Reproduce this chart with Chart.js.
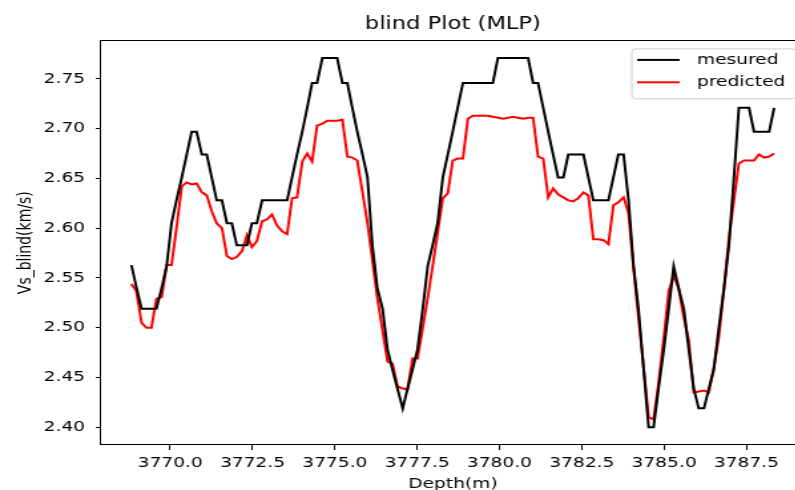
<!DOCTYPE html>
<html lang="es">
<head>
<meta charset="utf-8">
<title>blind Plot (MLP)</title>
<script src="https://cdn.jsdelivr.net/npm/chart.js@4.4.1/dist/chart.umd.min.js"></script>
<style>
  html, body { margin: 0; padding: 0; background: #ffffff; overflow: hidden; }
  #contenedor { width: 795px; height: 490px; overflow: hidden; }
</style>
</head>
<body>
<div id="contenedor">
  <!-- se dibuja mas estrecho y se estira en horizontal, como la figura original -->
  <canvas id="graficoBlind" width="609" height="490" style="width:810px;height:490px"></canvas>
</div>
<script>
const profundidades = [
  3768.82, 3768.97, 3769.13, 3769.28, 3769.43, 3769.58, 3769.74, 3769.89, 3770.04, 3770.19,
  3770.35, 3770.50, 3770.65, 3770.80, 3770.96, 3771.11, 3771.26, 3771.41, 3771.57, 3771.72,
  3771.87, 3772.02, 3772.18, 3772.33, 3772.48, 3772.63, 3772.79, 3772.94, 3773.09, 3773.24,
  3773.40, 3773.55, 3773.70, 3773.85, 3774.01, 3774.16, 3774.31, 3774.46, 3774.62, 3774.77,
  3774.92, 3775.07, 3775.23, 3775.38, 3775.53, 3775.68, 3775.84, 3775.99, 3776.14, 3776.29,
  3776.45, 3776.60, 3776.75, 3776.90, 3777.06, 3777.21, 3777.36, 3777.51, 3777.67, 3777.82,
  3777.97, 3778.12, 3778.28, 3778.43, 3778.58, 3778.73, 3778.89, 3779.04, 3779.19, 3779.34,
  3779.50, 3779.65, 3779.80, 3779.95, 3780.11, 3780.26, 3780.41, 3780.56, 3780.72, 3780.87,
  3781.02, 3781.17, 3781.33, 3781.48, 3781.63, 3781.78, 3781.94, 3782.09, 3782.24, 3782.39,
  3782.55, 3782.70, 3782.85, 3783.00, 3783.16, 3783.31, 3783.46, 3783.61, 3783.77, 3783.92,
  3784.07, 3784.22, 3784.38, 3784.53, 3784.68, 3784.83, 3784.99, 3785.14, 3785.29, 3785.44,
  3785.60, 3785.75, 3785.90, 3786.05, 3786.21, 3786.36, 3786.51, 3786.66, 3786.82, 3786.97,
  3787.12, 3787.27, 3787.43, 3787.58, 3787.73, 3787.88, 3788.04, 3788.19, 3788.34,
];

const vsMedido = [
  2.563, 2.541, 2.519, 2.519, 2.519, 2.519, 2.540, 2.562, 2.605, 2.628,
  2.651, 2.674, 2.697, 2.697, 2.674, 2.674, 2.651, 2.628, 2.628, 2.605,
  2.605, 2.583, 2.583, 2.583, 2.605, 2.605, 2.628, 2.628, 2.628, 2.628,
  2.628, 2.628, 2.651, 2.674, 2.697, 2.721, 2.746, 2.746, 2.771, 2.771,
  2.771, 2.771, 2.746, 2.746, 2.721, 2.697, 2.674, 2.651, 2.583, 2.540,
  2.519, 2.478, 2.458, 2.439, 2.419, 2.439, 2.458, 2.478, 2.519, 2.562,
  2.583, 2.605, 2.651, 2.674, 2.697, 2.721, 2.746, 2.746, 2.746, 2.746,
  2.746, 2.746, 2.746, 2.771, 2.771, 2.771, 2.771, 2.771, 2.771, 2.771,
  2.746, 2.746, 2.721, 2.697, 2.674, 2.651, 2.651, 2.674, 2.674, 2.674,
  2.674, 2.651, 2.628, 2.628, 2.628, 2.628, 2.651, 2.674, 2.674, 2.628,
  2.562, 2.519, 2.458, 2.400, 2.400, 2.439, 2.478, 2.519, 2.562, 2.540,
  2.519, 2.478, 2.439, 2.419, 2.419, 2.439, 2.458, 2.499, 2.540, 2.583,
  2.651, 2.721, 2.721, 2.721, 2.697, 2.697, 2.697, 2.697, 2.721,
];

const vsPredicho = [
  2.544, 2.537, 2.505, 2.500, 2.500, 2.529, 2.531, 2.563, 2.563, 2.600,
  2.642, 2.646, 2.644, 2.645, 2.636, 2.633, 2.617, 2.605, 2.600, 2.572,
  2.569, 2.571, 2.577, 2.593, 2.581, 2.587, 2.607, 2.609, 2.614, 2.603,
  2.597, 2.594, 2.630, 2.631, 2.667, 2.675, 2.667, 2.703, 2.705, 2.708,
  2.708, 2.708, 2.709, 2.672, 2.671, 2.668, 2.636, 2.605, 2.568, 2.530,
  2.497, 2.466, 2.464, 2.441, 2.439, 2.438, 2.469, 2.469, 2.500, 2.530,
  2.562, 2.595, 2.630, 2.635, 2.668, 2.670, 2.670, 2.710, 2.713, 2.713,
  2.713, 2.713, 2.712, 2.711, 2.710, 2.711, 2.712, 2.711, 2.710, 2.711,
  2.711, 2.672, 2.670, 2.631, 2.640, 2.634, 2.631, 2.628, 2.627, 2.630,
  2.636, 2.633, 2.589, 2.589, 2.588, 2.584, 2.623, 2.626, 2.631, 2.615,
  2.560, 2.510, 2.460, 2.410, 2.408, 2.444, 2.490, 2.537, 2.552, 2.540,
  2.510, 2.487, 2.435, 2.436, 2.437, 2.435, 2.460, 2.490, 2.540, 2.590,
  2.628, 2.665, 2.668, 2.668, 2.668, 2.674, 2.671, 2.672, 2.675,
];

const SERIES = ["mesured", "predicted"];
const COLORES = ["#000000", "#ff0000"];

const FUENTE = "'DejaVu Sans', 'Liberation Sans', sans-serif";

const aPuntos = (valores) => valores.map((v, i) => ({ x: profundidades[i], y: v }));

// marco completo del eje, como los spines de matplotlib
const marcoEjes = {
  id: "marcoEjes",
  afterDraw: (chart) => {
    const { ctx, chartArea } = chart;
    ctx.save();
    ctx.strokeStyle = "#000000";
    ctx.lineWidth = 1;
    ctx.strokeRect(
      Math.round(chartArea.left) - 0.5,
      Math.round(chartArea.top) + 0.5,
      Math.round(chartArea.right - chartArea.left),
      Math.round(chartArea.bottom - chartArea.top) - 1
    );
    ctx.restore();
  },
};

const leyendaInterna = {
  id: "leyendaInterna",
  afterDraw: (chart) => {
    const { ctx, chartArea } = chart;
    const ancho = 123.5;
    const x = chartArea.right - 6.5 - ancho;
    const y = chartArea.top + 8.5;
    ctx.save();
    ctx.fillStyle = "rgba(255,255,255,0.8)";
    ctx.strokeStyle = "#cccccc";
    ctx.lineWidth = 1;
    ctx.beginPath();
    ctx.roundRect(x, y, ancho, 50, 3);
    ctx.fill();
    ctx.stroke();

    ctx.font = `14px ${FUENTE}`;
    ctx.textBaseline = "middle";
    chart.data.datasets.forEach((ds, i) => {
      const ly = y + 11 + i * 22.4;
      ctx.strokeStyle = ds.borderColor;
      ctx.lineWidth = 2;
      ctx.beginPath();
      ctx.moveTo(x + 4, ly);
      ctx.lineTo(x + 36, ly);
      ctx.stroke();
      ctx.fillStyle = "#000000";
      ctx.fillText(ds.label, x + 49, ly);
    });
    ctx.restore();
  },
};

const inicializarGrafico = () => {
  const canvas = document.getElementById("graficoBlind");
  if (!canvas || !window.Chart) return;

  Chart.defaults.font.family = FUENTE;
  Chart.defaults.color = "#000000";

  new Chart(canvas, {
    type: "line",
    data: {
      datasets: [
        {
          label: SERIES[0],
          data: aPuntos(vsMedido),
          borderColor: COLORES[0],
          borderWidth: 2,
          pointRadius: 0,
          tension: 0,
          fill: false,
        },
        {
          label: SERIES[1],
          data: aPuntos(vsPredicho),
          borderColor: COLORES[1],
          borderWidth: 2,
          pointRadius: 0,
          tension: 0,
          fill: false,
        },
      ],
    },
    options: {
      responsive: false,
      animation: false,
      events: [],
      layout: { padding: { left: 0, right: 4, top: 0, bottom: 0 } },
      plugins: {
        legend: { display: false },
        tooltip: { enabled: false },
        title: {
          display: true,
          text: "blind Plot (MLP)",
          fullSize: false,
          color: "#000000",
          font: { size: 17, weight: "normal" },
          padding: { top: 14, bottom: 6 },
        },
      },
      scales: {
        x: {
          type: "linear",
          min: 3767.9,
          max: 3789.27,
          afterFit: (scale) => {
            scale.height = 45;
          },
          border: { display: false },
          grid: {
            drawOnChartArea: false,
            drawTicks: true,
            tickLength: 5,
            color: "#000000",
          },
          ticks: {
            stepSize: 2.5,
            includeBounds: false,
            autoSkip: false,
            maxRotation: 0,
            padding: 5,
            color: "#000000",
            font: { size: 14 },
            callback: (val) => Number(val).toFixed(1),
          },
          title: {
            display: true,
            text: "Depth(m)",
            color: "#000000",
            font: { size: 14 },
            padding: { top: 0, bottom: -3 },
          },
        },
        y: {
          min: 2.3822,
          max: 2.7887,
          afterFit: (scale) => {
            scale.width = 76;
          },
          border: { display: false },
          grid: {
            drawOnChartArea: false,
            drawTicks: true,
            tickLength: 4,
            color: "#000000",
          },
          ticks: {
            stepSize: 0.05,
            includeBounds: false,
            padding: 8,
            color: "#000000",
            font: { size: 14 },
            callback: (val) => Number(val).toFixed(2),
          },
          title: {
            display: true,
            text: "Vs_blind(km/s)",
            color: "#000000",
            font: { size: 14 },
            padding: { top: 11, bottom: 0 },
          },
        },
      },
    },
    plugins: [marcoEjes, leyendaInterna],
  });
};

inicializarGrafico();
</script>
</body>
</html>
